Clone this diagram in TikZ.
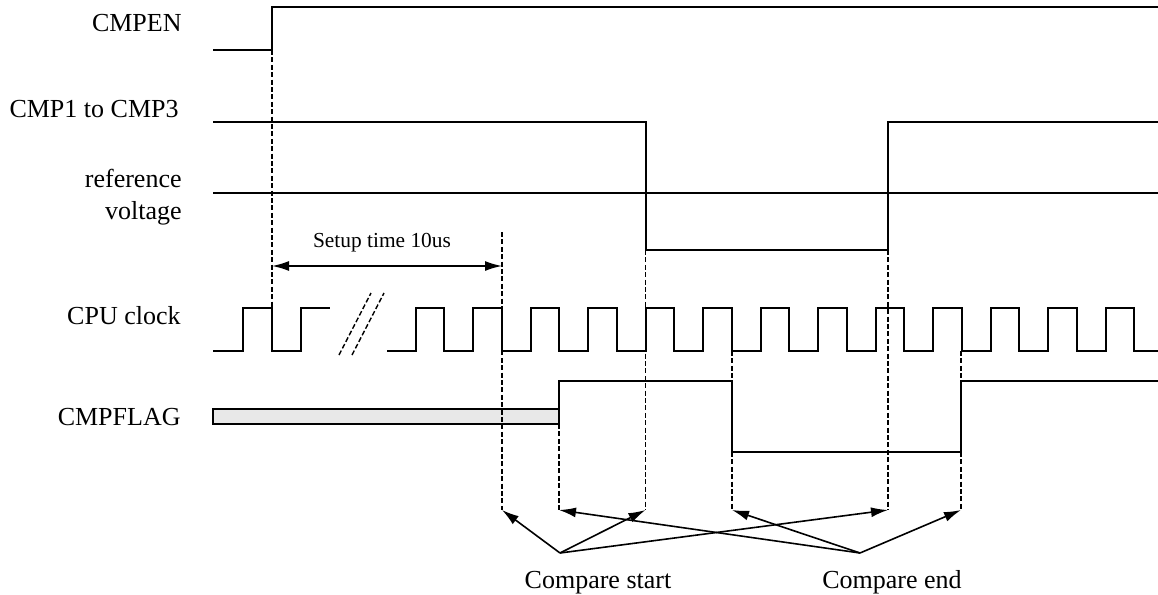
\documentclass[tikz,border=0pt]{standalone}
\usepackage{fontspec}
\setmainfont{Liberation Serif}
\usetikzlibrary{arrows.meta}
\tikzset{
	signal/.style= {
		black,
		line width=1pt,
		line join=miter
	},
	guide/.style= {
		black,
		line width=0.8pt,
		dash pattern=on 2.5pt off 1.2pt
	},
	sig label/.style= {
		anchor=base east,
		inner sep=0pt,
		font=\fontsize{13}{16}\selectfont
	},
	pointer/.style= {
		black,
		line width=0.8pt,
		-{Latex[length=8.5pt,width=5pt]}
	},
	span/.style= {
		black,
		line width=0.8pt,
		{Latex[length=8.5pt,width=5pt]}-{Latex[length=8.5pt,width=5pt]}
	}
}

\begin{document}
\begin{tikzpicture}[x=0.5pt, y=-0.5pt]
	\useasboundingbox (0,0) rectangle (1158,595);
	
	% signal names
	\node (cmpen)[sig label] at (182,31) {CMPEN};
	\node (cmpx)[sig label] at (179,117) {CMP1 to CMP3};
	\node (refv1)[sig label] at (182,187) {reference};
	\node (refv2)[sig label] at (182,219) {voltage};
	\node (clk)[sig label] at (181,324) {CPU clock};
	\node (flag)[sig label] at (181,425) {CMPFLAG};
	
	% waveforms
	\draw[signal] (213,50) -- (272,50) -- (272,7) -- (1158,7);
	\draw[signal] (213,122) -- (645.5,122) -- (645.5,250) -- (888,250) -- (888,122) -- (1158,122);
	\draw[signal] (213,193) -- (1158,193);
	\draw[signal] (213,351) -- (243,351) -- (243,308) -- (272,308) -- (272,351) -- (301,351) -- (301,308) -- (330,308);
	\draw[signal] (387,351)
		\foreach \k in {3,...,15} {
			-- ({243+57.5*\k},351) -- ({243+57.5*\k},308) -- ({271.75+57.5*\k},308) -- ({271.75+57.5*\k},351)
		} -- (1158,351);
	\draw[guide, line width=0.7pt] (339,355) -- (371,293);
	\draw[guide, line width=0.7pt] (352,355) -- (384,293);
	\draw[signal, fill=gray!18] (213,409) rectangle (559,424);
	\draw[signal] (559,424) -- (559,381) -- (732,381) -- (732,452) -- (961,452) -- (961,381) -- (1158,381);
	
	% arrow tips
	\coordinate (t1) at (502,510);
	\coordinate (t2) at (559,510);
	\coordinate (t3) at (645.5,510);
	\coordinate (t4) at (732,510);
	\coordinate (t5) at (888,510);
	\coordinate (t6) at (961,510);
	
	% guide lines
	\draw[guide] (272,50) -- (272,308);
	\draw[guide] (502,232) -- (t1);
	\draw[guide] (559,424) -- (t2);
	\draw[guide] (645.5,250) -- (t3);
	\draw[guide] (732,351) -- (732,381);
	\draw[guide] (732,452) -- (t4);
	\draw[guide] (888,250) -- (t5);
	\draw[guide] (961,351) -- (961,381);
	\draw[guide] (961,452) -- (t6);
	
	% setup time
	\coordinate (su1) at (272,266);
	\coordinate (su2) at (502,266);
	\draw[span] (su1) -- (su2);
	\node (setup)[anchor=base, font=\fontsize{10.7}{12}\selectfont] at (382,247) {Setup time 10us};
	
	% compare start / end
	\coordinate (cs) at (560,553);
	\coordinate (ce) at (860,553);
	\node (cstart)[anchor=base, font=\fontsize{13}{16}\selectfont] at (598,588) {Compare start};
	\node (cend)[anchor=base, font=\fontsize{13}{16}\selectfont] at (892,588) {Compare end};
	\foreach \t in {t1,t3,t5}
		\draw[pointer] (cs) -- (\t);
	\foreach \t in {t2,t4,t6}
		\draw[pointer] (ce) -- (\t);
\end{tikzpicture}
\end{document}
